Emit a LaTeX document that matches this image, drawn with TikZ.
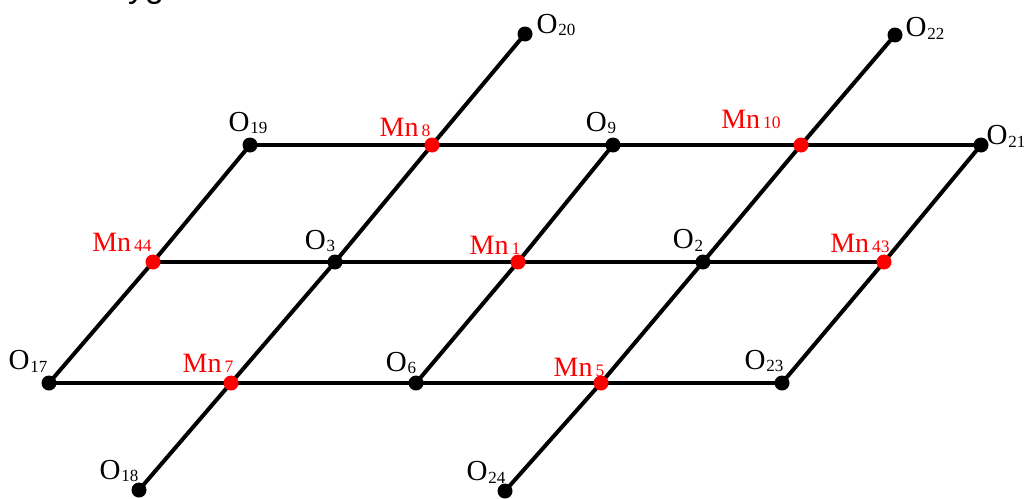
\documentclass[tikz,border=0pt]{standalone}
\usepackage{fontspec}
\setmainfont{Liberation Serif}
\newfontfamily\hv{Liberation Sans}
\tikzset{
 oatom/.style={circle,fill=black,inner sep=0pt,minimum size=15pt},
 mnatom/.style={circle,fill=red,inner sep=0pt,minimum size=15pt},
 bond/.style={line width=4pt,black},
 olab/.style={font=\fontsize{29}{29}\selectfont,inner sep=0pt,text=black},
 mnlab/.style={font=\fontsize{28}{28}\selectfont,inner sep=0pt,text=red}
}
\newcommand{\lab}[2]{#1\kern1pt\raisebox{-0.1em}{\fontsize{17}{17}\selectfont #2}}
\newcommand{\mlab}[2]{#1\kern3pt{\fontsize{17.5}{17.5}\selectfont #2}}
\begin{document}
\begin{tikzpicture}[x=1pt,y=-1pt]
\useasboundingbox (0,0) rectangle (1024,498);
\coordinate (c19) at (250,145);
\coordinate (c8) at (432,145);
\coordinate (c9) at (613,145);
\coordinate (c10) at (801,145);
\coordinate (c21) at (981,145);
\coordinate (c44) at (153,262);
\coordinate (c3) at (335,262);
\coordinate (c1) at (518,262);
\coordinate (c2) at (703,262);
\coordinate (c43) at (884,262);
\coordinate (c17) at (49,383);
\coordinate (c7) at (231,383);
\coordinate (c6) at (416,383);
\coordinate (c5) at (601,383);
\coordinate (c23) at (782,383);
\coordinate (c20) at (525,34);
\coordinate (c22) at (895,35);
\coordinate (c18) at (139,490);
\coordinate (c24) at (505,491);
\draw[bond] (c19)--(c8)--(c9)--(c10)--(c21);
\draw[bond] (c44)--(c3)--(c1)--(c2)--(c43);
\draw[bond] (c17)--(c7)--(c6)--(c5)--(c23);
\draw[bond] (c19)--(c44)--(c17);
\draw[bond] (c20)--(c8)--(c3)--(c7)--(c18);
\draw[bond] (c9)--(c1)--(c6);
\draw[bond] (c22)--(c10)--(c2)--(c5)--(c24);
\draw[bond] (c21)--(c43)--(c23);
\node (o19) at (c19) [oatom]{};
\node (mn8) at (c8) [mnatom]{};
\node (o9) at (c9) [oatom]{};
\node (mn10) at (c10) [mnatom]{};
\node (o21) at (c21) [oatom]{};
\node (mn44) at (c44) [mnatom]{};
\node (o3) at (c3) [oatom]{};
\node (mn1) at (c1) [mnatom]{};
\node (o2) at (c2) [oatom]{};
\node (mn43) at (c43) [mnatom]{};
\node (o17) at (c17) [oatom]{};
\node (mn7) at (c7) [mnatom]{};
\node (o6) at (c6) [oatom]{};
\node (mn5) at (c5) [mnatom]{};
\node (o23) at (c23) [oatom]{};
\node (o20) at (c20) [oatom]{};
\node (o22) at (c22) [oatom]{};
\node (o18) at (c18) [oatom]{};
\node (o24) at (c24) [oatom]{};
\node (t0) at (128,-3) [anchor=base west,inner sep=0pt,font=\hv\fontsize{34}{34}\selectfont] {yg};
\node (t1) at (248,123) [olab]{\lab{O}{19}};
\node (t2) at (405,127) [mnlab]{\mlab{Mn}{8}};
\node (t3) at (601,123) [olab]{\lab{O}{9}};
\node (t4) at (751,119) [mnlab]{\mlab{Mn}{10}};
\node (t5) at (1006,136) [olab]{\lab{O}{21}};
\node (t6) at (556,25) [olab]{\lab{O}{20}};
\node (t7) at (925,28) [olab]{\lab{O}{22}};
\node (t8) at (122,242) [mnlab]{\mlab{Mn}{44}};
\node (t9) at (320,241) [olab]{\lab{O}{3}};
\node (t10) at (495,245) [mnlab]{\mlab{Mn}{1}};
\node (t11) at (688,240) [olab]{\lab{O}{2}};
\node (t12) at (860,243) [mnlab]{\mlab{Mn}{43}};
\node (t13) at (28,361) [olab]{\lab{O}{17}};
\node (t14) at (208,363) [mnlab]{\mlab{Mn}{7}};
\node (t15) at (401,363) [olab]{\lab{O}{6}};
\node (t16) at (579,367) [mnlab]{\mlab{Mn}{5}};
\node (t17) at (764,361) [olab]{\lab{O}{23}};
\node (t18) at (119,471) [olab]{\lab{O}{18}};
\node (t19) at (486,472) [olab]{\lab{O}{24}};
\end{tikzpicture}
\end{document}
